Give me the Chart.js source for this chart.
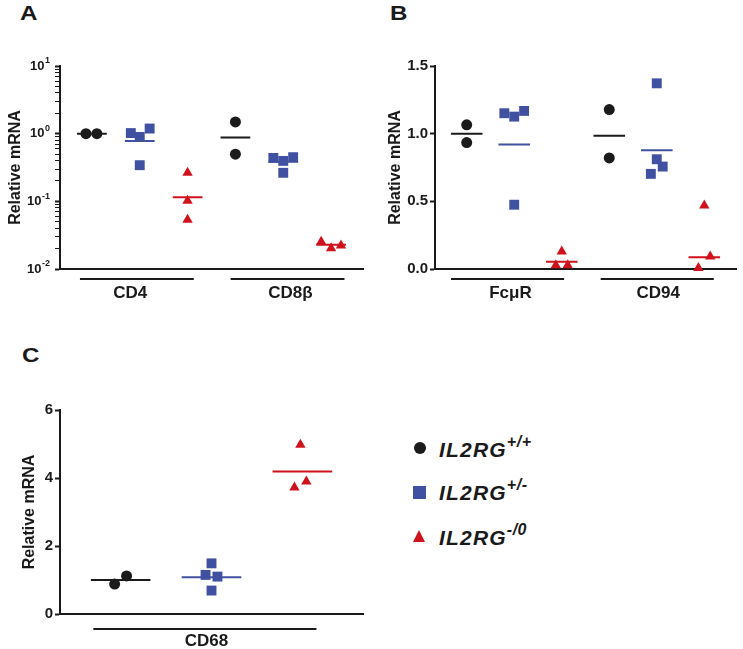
<!DOCTYPE html>
<html>
<head>
<meta charset="utf-8">
<script src="https://cdn.jsdelivr.net/npm/chart.js@4.4.0/dist/chart.umd.min.js"></script>
<style>
  body { margin: 0; background: #fff; width: 743px; height: 649px; position: relative; overflow: hidden;
         font-family: "Liberation Sans", Arial, sans-serif; color: #1a1a1a; }
  canvas { position: absolute; }
  .letter { position: absolute; font-weight: bold; font-size: 21px; line-height: 21px; transform: scaleX(1.15); transform-origin: left; }
  .mark { position: absolute; }
  .key { position: absolute; left: 439px; font-weight: bold; font-style: italic; font-size: 21px;
         line-height: 21px; letter-spacing: 1.2px; white-space: nowrap; }
  .key span { position: relative; top: -10px; font-size: 16px; letter-spacing: 0.5px; }
</style>
</head>
<body>
<div class="letter" style="left:20px;top:2px">A</div>
<div class="letter" style="left:390px;top:2px">B</div>
<div class="letter" style="left:22px;top:344px">C</div>

<canvas id="chartA" width="370" height="280" style="left:0;top:40px"></canvas>
<canvas id="chartB" width="373" height="280" style="left:370px;top:40px"></canvas>
<canvas id="chartC" width="370" height="329" style="left:0;top:320px"></canvas>

<div class="mark" style="left:414px;top:442px;width:12px;height:12px;border-radius:50%;background:#1b1b1b"></div>
<div class="key" style="top:439px">IL2RG<span>+/+</span></div>
<div class="mark" style="left:413px;top:486px;width:13px;height:13px;background:#4151a1"></div>
<div class="key" style="top:482px">IL2RG<span>+/-</span></div>
<div class="mark" style="left:413px;top:530px;width:0;height:0;border-left:6.5px solid transparent;border-right:6.5px solid transparent;border-bottom:12px solid #d0121d"></div>
<div class="key" style="top:527px">IL2RG<span>-/0</span></div>

<script>
const genotypes = ["IL2RG+/+", "IL2RG+/-", "IL2RG-/0"];

// panel A, log scale
const genesA = ["CD4", "CD8β"];
const cd4Values = [[1.0, 1.0], [1.02, 0.895, 1.19, 0.342], [0.264, 0.102, 0.0535]];
const cd4Means = [1.0, 0.78, 0.115];
const cd8bValues = [[1.49, 0.497], [0.438, 0.396, 0.449, 0.264], [0.0253, 0.0202, 0.0223]];
const cd8bMeans = [0.875, 0.383, 0.0229];
const ticksA = [-2, -1, 0, 1]; // powers of ten

// panel B
const genesB = ["FcμR", "CD94"];
const fcmrValues = [[1.065, 0.934], [1.151, 1.126, 1.168, 0.475], [0.13, 0.027, 0.027]];
const fcmrMeans = [1.0, 0.92, 0.054];
const cd94Values = [[1.178, 0.821], [1.372, 0.811, 0.757, 0.703], [0.007, 0.47, 0.093]];
const cd94Means = [0.984, 0.878, 0.086];
const ticksB = [0, 0.5, 1.0, 1.5];

// panel C
const genesC = ["CD68"];
const cd68Values = [[0.88, 1.12], [1.15, 1.49, 1.10, 0.69], [3.72, 4.98, 3.90]];
const cd68Means = [1.0, 1.08, 4.19];
const ticksC = [0, 2, 4, 6];

// layout: sideways shift of each dot (px), so overlapping dots sit next to each other
const shiftA = [[[-6, 5], [-9, 0, 10, 0], [0, 0, 0]], [[0, 0], [-10, 0, 10, 0], [-10, 0, 10]]];
const shiftB = [[[0, 0], [-10, 0, 10, 0], [0, -6, 6]], [[0, 0], [0, 0, 6, -6], [-6, 0, 6]]];
const shiftC = [[[-6, 6], [-6, 0, 6, 0], [-8, -2, 4]]];

const ink = "#1a1a1a";
const colors = ["#1b1b1b", "#4151a1", "#d0121d"];
const shapes = ["circle", "rect", "triangle"];
const radii = [5.5, 7, 6];
const font = "'Liberation Sans', Arial, sans-serif";

const groupAxis = {
  id: "groupAxis",
  afterDraw(chart, args, opts) {
    const ctx = chart.ctx;
    const x = chart.scales.x;
    const bottom = chart.chartArea.bottom;
    ctx.save();
    ctx.strokeStyle = ink;
    ctx.lineWidth = 2;
    ctx.fillStyle = ink;
    ctx.font = "bold 17px " + font;
    ctx.textAlign = "center";
    ctx.textBaseline = "middle";
    opts.labels.forEach((label, i) => {
      const [a, b] = opts.spans[i];
      ctx.beginPath();
      ctx.moveTo(x.getPixelForValue(a), bottom + opts.lineGap);
      ctx.lineTo(x.getPixelForValue(b), bottom + opts.lineGap);
      ctx.stroke();
      ctx.fillText(label, x.getPixelForValue(opts.labelAt[i]), bottom + opts.labelGap);
    });
    ctx.restore();
  }
};

const powerLabels = {
  id: "powerLabels",
  afterDraw(chart, args, opts) {
    if (!opts.powers) return;
    const ctx = chart.ctx;
    const y = chart.scales.y;
    const right = chart.chartArea.left - 10;
    ctx.save();
    ctx.fillStyle = ink;
    ctx.textBaseline = "middle";
    opts.powers.forEach(p => {
      const py = y.getPixelForValue(Math.pow(10, p));
      const exp = p < 0 ? "-" + Math.abs(p) : String(p);
      ctx.font = "bold 9px " + font;
      const ew = ctx.measureText(exp).width;
      ctx.textAlign = "left";
      ctx.fillText(exp, right - ew, py - 5);
      ctx.font = "bold 13px " + font;
      ctx.textAlign = "right";
      ctx.fillText("10", right - ew - 0.5, py);
    });
    ctx.restore();
  }
};

function makePanel(id, p) {
  const upx = p.plotWidth / (p.xMax - p.xMin);
  const datasets = [];
  genotypes.forEach((name, k) => {
    const pts = [];
    const seg = [];
    p.values.forEach((gene, gi) => {
      const c = gi * 3 + k + 1;
      gene[k].forEach((v, j) => pts.push({ x: c + p.shift[gi][k][j] / upx, y: v }));
      const m = p.means[gi][k];
      seg.push({ x: c - p.halfWidth / upx, y: m }, { x: c + p.halfWidth / upx, y: m }, { x: c + p.halfWidth / upx, y: null });
    });
    datasets.push({
      type: "line", label: name + " mean", data: seg, borderColor: colors[k], borderWidth: 2,
      pointRadius: 0, spanGaps: false, fill: false, clip: false
    });
    datasets.push({
      type: "scatter", label: name, data: pts, pointStyle: shapes[k], pointRadius: radii[k],
      backgroundColor: colors[k], borderColor: colors[k], borderWidth: 0, clip: false
    });
  });

  const yScale = Object.assign({
    grid: { drawOnChartArea: false, drawTicks: true, tickLength: 5, tickWidth: 2, tickColor: ink },
    border: { display: true, width: 2, color: ink },
    ticks: { color: ink, font: { family: font, size: 15, weight: "bold" }, padding: 2 },
    title: { display: true, text: "Relative mRNA", color: ink,
             font: { family: font, size: 16, weight: "bold" }, padding: { top: p.titlePad, bottom: 0 } },
    afterFit: s => { s.width = p.left; }
  }, p.y);

  return new Chart(document.getElementById(id), {
    type: "scatter",
    data: { datasets },
    plugins: [groupAxis, powerLabels],
    options: {
      responsive: false,
      animation: false,
      events: [],
      layout: { padding: { left: 0, top: p.top, right: p.right, bottom: 0 } },
      scales: {
        x: {
          type: "linear", min: p.xMin, max: p.xMax,
          ticks: { display: false },
          grid: { display: false },
          border: { display: true, width: 2, color: ink },
          afterFit: s => { s.height = p.bottom; }
        },
        y: yScale
      },
      plugins: {
        legend: { display: false },
        tooltip: { enabled: false },
        groupAxis: p.groups,
        powerLabels: { powers: p.powers }
      }
    }
  });
}

const logTicks = [];
for (let e = ticksA[0]; e < ticksA[ticksA.length - 1]; e++) {
  for (let m = 1; m < 10; m++) logTicks.push(Number((m * Math.pow(10, e)).toPrecision(3)));
}
logTicks.push(Math.pow(10, ticksA[ticksA.length - 1]));

makePanel("chartA", {
  values: [cd4Values, cd8bValues], means: [cd4Means, cd8bMeans], shift: shiftA,
  xMin: 0.333, xMax: 6.667, plotWidth: 306, halfWidth: 15,
  left: 60, top: 26, right: 4, bottom: 51, titlePad: 6,
  powers: ticksA,
  y: {
    type: "logarithmic", min: Math.pow(10, ticksA[0]), max: Math.pow(10, ticksA[ticksA.length - 1]),
    afterBuildTicks: s => { s.ticks = logTicks.map(v => ({ value: v })); },
    ticks: { display: false },
    grid: { drawOnChartArea: false, drawTicks: true, tickLength: 5, tickColor: ink,
            tickWidth: c => (c.tick && Number.isInteger(Math.log10(c.tick.value)) ? 2 : 1) }
  },
  groups: { labels: genesA, spans: [[0.75, 3.13], [3.9, 6.28]], labelAt: [1.8, 5.15], lineGap: 10, labelGap: 24 }
});

makePanel("chartB", {
  values: [fcmrValues, cd94Values], means: [fcmrMeans, cd94Means], shift: shiftB,
  xMin: 0.333, xMax: 6.667, plotWidth: 305, halfWidth: 16,
  left: 65, top: 26, right: 3, bottom: 51, titlePad: 16,
  y: {
    type: "linear", min: ticksB[0], max: ticksB[ticksB.length - 1],
    afterBuildTicks: s => { s.ticks = ticksB.map(v => ({ value: v })); },
    ticks: { color: ink, font: { family: font, size: 15, weight: "bold" }, padding: 2,
             callback: v => Number(v).toFixed(1) }
  },
  groups: { labels: genesB, spans: [[0.67, 3.05], [3.82, 6.2]], labelAt: [1.92, 5.03], lineGap: 10, labelGap: 24 }
});

makePanel("chartC", {
  values: [cd68Values], means: [cd68Means], shift: shiftC,
  xMin: 0.333, xMax: 3.667, plotWidth: 305, halfWidth: 30,
  left: 60, top: 90, right: 5, bottom: 35, titlePad: 20,
  y: {
    type: "linear", min: ticksC[0], max: ticksC[ticksC.length - 1],
    afterBuildTicks: s => { s.ticks = ticksC.map(v => ({ value: v })); }
  },
  groups: { labels: genesC, spans: [[0.7, 3.155]], labelAt: [1.945], lineGap: 15, labelGap: 27 }
});
</script>
</body>
</html>
